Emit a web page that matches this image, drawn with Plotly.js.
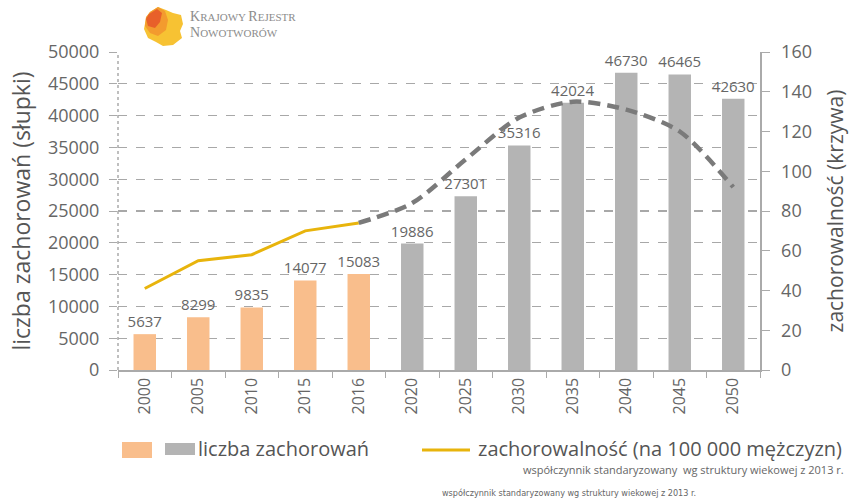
<!DOCTYPE html>
<html>
<head>
<meta charset="utf-8">
<script src="https://cdn.plot.ly/plotly-3.0.1.min.js"></script>
<style>html,body{margin:0;padding:0;background:#fff;}#chart{width:849px;height:503px;}</style>
</head>
<body>
<div id="chart"></div>
<script>
// ---- data ----
var yearsObserved = ['2000','2005','2010','2015','2016'];
var yearsProjected = ['2020','2025','2030','2035','2040','2045','2050'];
var casesObserved = [5637, 8299, 9835, 14077, 15083];
var casesProjected = [19886, 27301, 35316, 42024, 46730, 46465, 42630];
var rateObserved = [41, 55, 58, 70, 74];
var rateProjectedYears = ['2016','2020','2025','2030','2035','2040','2045','2050'];
var rateProjected = [74, 84, 106, 127, 135, 131, 120, 92];
var allYears = yearsObserved.concat(yearsProjected);

var legendBars = 'liczba zachorowań';
var legendLine = 'zachorowalność (na 100 000 mężczyzn)';
var yTitle = 'liczba zachorowań (słupki)';
var y2Title = 'zachorowalność (krzywa)';
var footnote = 'współczynnik standaryzowany  wg struktury wiekowej z 2013 r.';

// ---- layout helpers (pixel -> paper) ----
var L = 118, R = 760, T = 52, B = 370;
function px(x){ return (x - L) / (R - L); }
function py(y){ return (B - y) / (B - T); }
function poly(pts){
  return 'M' + pts.map(function(p){ return px(p[0]) + ',' + py(p[1]); }).join('L') + 'Z';
}

var FONT = '"Open Sans", "Noto Sans", sans-serif';
var TXT = '#666';

var traces = [
  {type:'bar', x: yearsObserved, y: casesObserved, marker:{color:'#F9BE8C'},
   text: casesObserved.map(String), textposition:'outside', cliponaxis:false, constraintext:'none',
   textfont:{size:15, color:TXT, family:FONT}, showlegend:false, hoverinfo:'x+y'},
  {type:'bar', x: yearsProjected, y: casesProjected, marker:{color:'#B4B4B4'},
   text: casesProjected.map(String), textposition:'outside', cliponaxis:false, constraintext:'none',
   textfont:{size:15, color:TXT, family:FONT}, showlegend:false, hoverinfo:'x+y'},
  {type:'scatter', mode:'lines', x: yearsObserved, y: rateObserved, yaxis:'y2',
   line:{color:'#E8B40C', width:3}, showlegend:false},
  {type:'scatter', mode:'lines', x: rateProjectedYears, y: rateProjected, yaxis:'y2',
   line:{color:'#7A7A7A', width:4.5, dash:'12px,7px', shape:'spline', smoothing:0.8}, showlegend:false}
];

var shapes = [
  // dotted left axis line
  {type:'line', xref:'paper', yref:'paper', x0:0, x1:0, y0:0, y1:1,
   line:{color:'#AAAAAA', width:1.5, dash:'dot'}},
  // logo
  {type:'path', xref:'paper', yref:'paper', layer:'above', line:{width:0}, fillcolor:'#F7C233',
   path: poly([[150,12],[158,7],[166,10],[173,13],[181,15],[183,24],[180,31],[182,38],[173,45],[163,46],[156,42],[148,38],[144,29],[146,18]])},
  {type:'path', xref:'paper', yref:'paper', layer:'above', line:{width:0}, fillcolor:'#F39B2E',
   path: poly([[150,12],[158,7],[165,11],[168,20],[166,30],[158,36],[150,33],[145,26],[146,17]])},
  {type:'path', xref:'paper', yref:'paper', layer:'above', line:{width:0}, fillcolor:'#E8602A',
   path: poly([[149,14],[157,9],[162,13],[160,22],[155,28],[148,26],[146,19]])},
  // legend symbols
  {type:'rect', xref:'paper', yref:'paper', x0:px(122), x1:px(152), y0:py(458), y1:py(442),
   fillcolor:'#F9BE8C', line:{width:0}},
  {type:'rect', xref:'paper', yref:'paper', x0:px(165), x1:px(195), y0:py(455), y1:py(443),
   fillcolor:'#B4B4B4', line:{width:0}},
  {type:'line', xref:'paper', yref:'paper', x0:px(422), x1:px(470), y0:py(450), y1:py(450),
   line:{color:'#E8B40C', width:3}}
];

var annotations = [
  {xref:'paper', yref:'paper', x:px(188), y:py(16), xanchor:'left', yanchor:'middle', showarrow:false,
   text:'<span style="font-size:14px">K</span>RAJOWY <span style="font-size:14px">R</span>EJESTR',
   font:{family:'"Liberation Serif", serif', size:11, color:'#8C8C8C'}},
  {xref:'paper', yref:'paper', x:px(188), y:py(32), xanchor:'left', yanchor:'middle', showarrow:false,
   text:'<span style="font-size:14px">N</span>OWOTWORÓW',
   font:{family:'"Liberation Serif", serif', size:11, color:'#8C8C8C'}},
  {xref:'paper', yref:'paper', x:px(196), y:py(448), xanchor:'left', yanchor:'middle', showarrow:false,
   text: legendBars, font:{family:FONT, size:20, color:'#555'}},
  {xref:'paper', yref:'paper', x:px(476), y:py(448), xanchor:'left', yanchor:'middle', showarrow:false,
   text: legendLine, font:{family:FONT, size:20, color:'#555'}},
  {xref:'paper', yref:'paper', x:px(846), y:py(469), xanchor:'right', yanchor:'middle', showarrow:false,
   text: footnote, font:{family:FONT, size:11, color:TXT}},
  {xref:'paper', yref:'paper', x:px(440), y:py(493), xanchor:'left', yanchor:'middle', showarrow:false,
   text: footnote.replace('  ',' '), font:{family:'"DejaVu Sans Condensed", "Liberation Sans Narrow", sans-serif', size:9, color:TXT}}
];

var layout = {
  width:849, height:503,
  margin:{l:L, r:849-R, t:T, b:503-B, pad:0},
  paper_bgcolor:'#fff', plot_bgcolor:'#fff',
  font:{family:FONT, color:TXT},
  barmode:'overlay', bargap:0.58,
  showlegend:false,
  xaxis:{type:'category', categoryorder:'array', categoryarray: allYears,
    tickangle:-90, tickfont:{size:16, color:TXT}, ticks:'outside', tickson:'boundaries',
    ticklen:6, tickcolor:'#AAAAAA', showline:true, linecolor:'#AAAAAA', linewidth:1.5,
    showgrid:false, automargin:false},
  yaxis:{range:[0,50000], dtick:5000, tickformat:'d', tickfont:{size:18, color:TXT},
    ticks:'outside', ticklen:8, tickcolor:'#AAAAAA', ticklabelstandoff:6,
    showgrid:true, gridcolor:'#A8A8A8', griddash:'dash', gridwidth:1.2,
    zeroline:false, showline:false, automargin:false,
    title:{text:yTitle, font:{size:23, color:'#555'}, standoff:10}},
  yaxis2:{overlaying:'y', side:'right', range:[0,160], dtick:20,
    tickfont:{size:18, color:TXT}, ticks:'outside', ticklen:8, tickcolor:'#AAAAAA', ticklabelstandoff:8,
    showline:true, linecolor:'#AAAAAA', linewidth:1.5, showgrid:false, zeroline:false, automargin:false,
    title:{text:y2Title, font:{size:21, color:'#555'}, standoff:22}},
  shapes: shapes,
  annotations: annotations
};

Plotly.newPlot('chart', traces, layout, {displayModeBar:false, staticPlot:true});
</script>
</body>
</html>
